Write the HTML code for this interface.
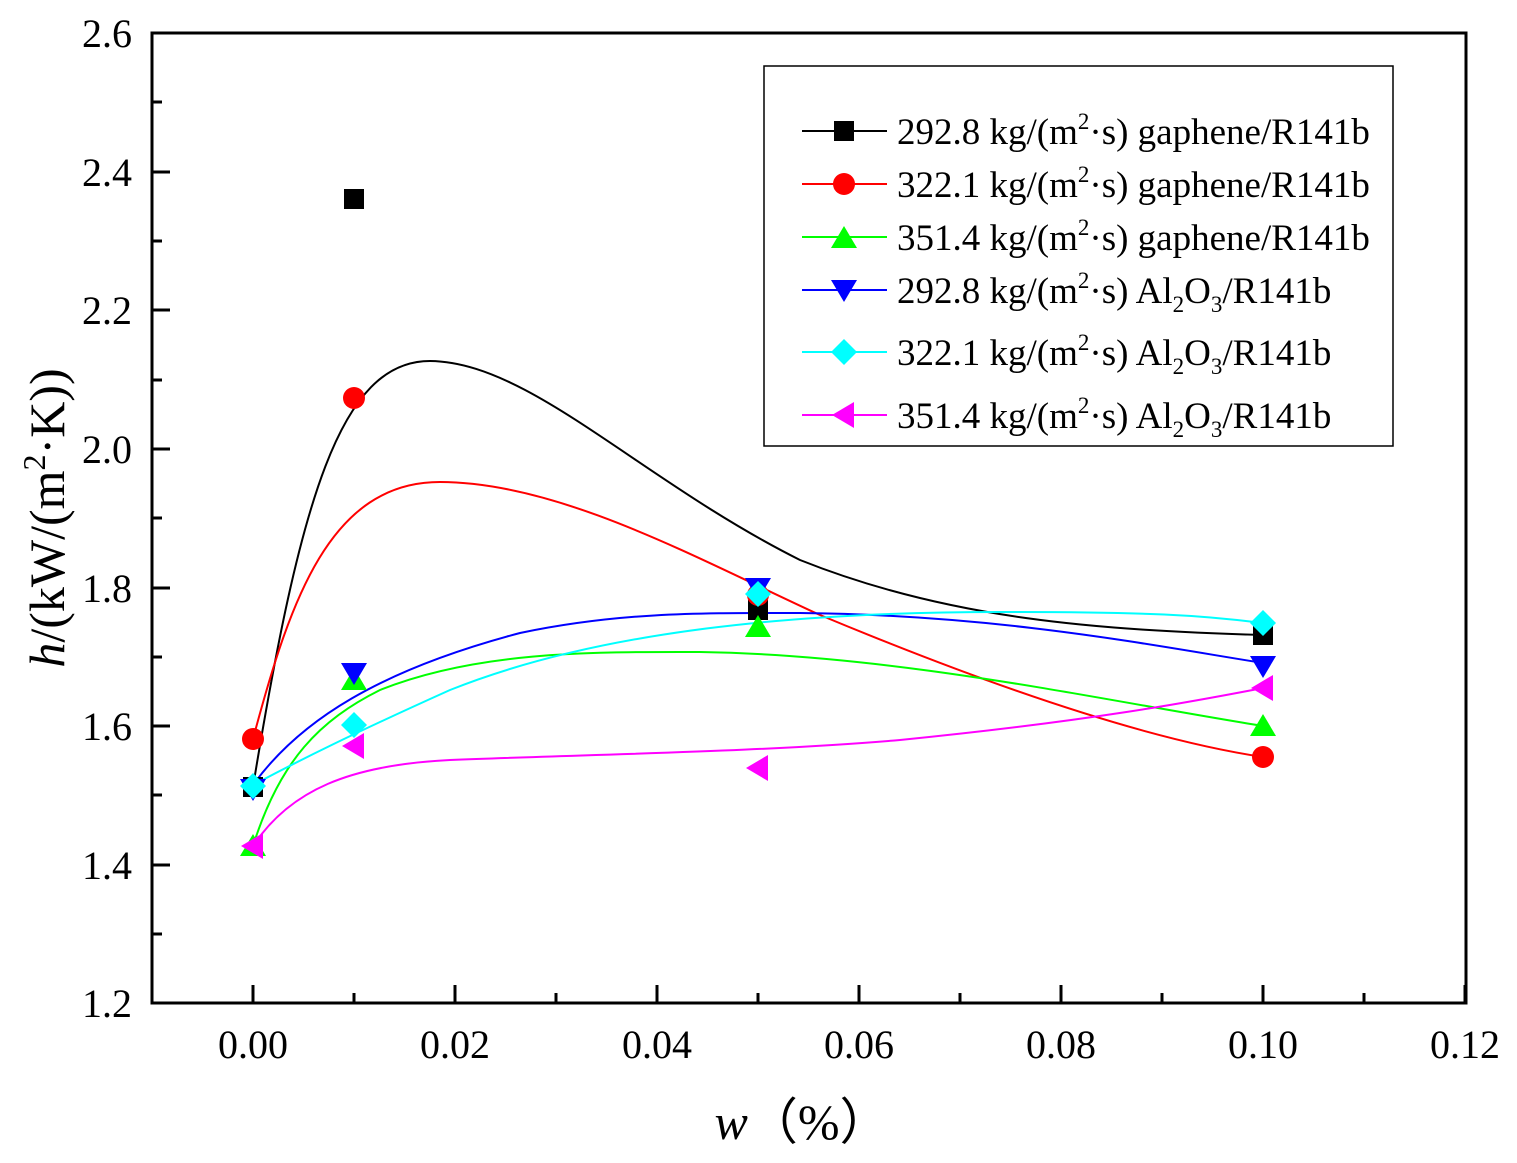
<!DOCTYPE html><html><head><style>body{margin:0;background:#fff}svg{display:block}text{font-family:"Liberation Serif",serif}</style></head><body>
<svg width="1517" height="1163" viewBox="0 0 1517 1163" xmlns="http://www.w3.org/2000/svg">
<defs>
<g id="sq"><rect x="-10" y="-10" width="20" height="20" fill="#000"/></g>
<g id="ci"><circle r="11" fill="#f00"/></g>
<g id="tu"><polygon points="0,-12 13,10 -13,10" fill="#0f0"/></g>
<g id="td"><polygon points="0,12 13,-10 -13,-10" fill="#00f"/></g>
<g id="di"><polygon points="0,-13 13,0 0,13 -13,0" fill="#0ff"/></g>
<g id="tl"><polygon points="-12,0 10,-13 10,13" fill="#f0f"/></g>
</defs>
<g fill="none" stroke-width="2">
<path d="M253,787 C300,500 340,361 430,361 C530,362 640,480 800,560 C950,620 1100,630 1263,635" stroke="#000"/>
<path d="M253,739 C290,600 330,482 440,482 C560,482 700,560 820,615 C1000,690 1150,740 1263,757" stroke="#f00"/>
<path d="M253,846 C280,760 320,720 380,690 C480,650 600,652 700,652 C900,655 1100,700 1263,726" stroke="#0f0"/>
<path d="M253,785 C300,720 380,670 520,633 C620,612 700,613 800,613 C1000,615 1150,645 1263,663" stroke="#00f"/>
<path d="M253,785 C300,760 350,735 450,690 C600,630 800,612 1000,612 C1150,612 1200,615 1263,623" stroke="#0ff"/>
<path d="M253,846 C290,790 350,765 450,760 C600,754 760,752 900,740 C1100,720 1200,700 1263,688" stroke="#f0f"/>
</g>
<use href="#sq" x="253" y="787"/><use href="#sq" x="354" y="199"/><use href="#sq" x="758" y="610"/><use href="#sq" x="1263" y="635"/>
<use href="#ci" x="253" y="739"/><use href="#ci" x="354" y="398"/><use href="#ci" x="758" y="595"/><use href="#ci" x="1263" y="757"/>
<use href="#tu" x="253" y="846"/><use href="#tu" x="354" y="680"/><use href="#tu" x="758" y="627"/><use href="#tu" x="1263" y="726"/>
<use href="#td" x="253" y="789"/><use href="#td" x="354" y="673"/><use href="#td" x="758" y="588"/><use href="#td" x="1263" y="666"/>
<use href="#di" x="253" y="786"/><use href="#di" x="354" y="725"/><use href="#di" x="758" y="594"/><use href="#di" x="1263" y="623"/>
<use href="#tl" x="253" y="846"/><use href="#tl" x="354" y="746"/><use href="#tl" x="758" y="768"/><use href="#tl" x="1263" y="688"/>
<rect x="152" y="33" width="1314" height="970" fill="none" stroke="#000" stroke-width="3"/>
<g stroke="#000" stroke-width="3">
<path d="M253,1003v-18M455,1003v-18M657,1003v-18M859,1003v-18M1061,1003v-18M1263,1003v-18M1465,1003v-18"/>
<path d="M354,1003v-10M556,1003v-10M758,1003v-10M960,1003v-10M1162,1003v-10M1364,1003v-10"/>
<path d="M152,172h18M152,310h18M152,449h18M152,588h18M152,726h18M152,865h18"/>
<path d="M152,102h10M152,241h10M152,380h10M152,518h10M152,657h10M152,795h10M152,934h10"/>
</g>
<g font-size="40" text-anchor="end">
<text x="132" y="47">2.6</text><text x="132" y="186">2.4</text><text x="132" y="324">2.2</text><text x="132" y="463">2.0</text><text x="132" y="602">1.8</text><text x="132" y="740">1.6</text><text x="132" y="879">1.4</text><text x="132" y="1017">1.2</text>
</g>
<g font-size="40" text-anchor="middle">
<text x="253" y="1058">0.00</text><text x="455" y="1058">0.02</text><text x="657" y="1058">0.04</text><text x="859" y="1058">0.06</text><text x="1061" y="1058">0.08</text><text x="1263" y="1058">0.10</text><text x="1465" y="1058">0.12</text>
</g>
<text transform="translate(64,518) rotate(-90)" font-size="50" text-anchor="middle"><tspan font-style="italic">h</tspan>/(kW/(m<tspan font-size="32" dy="-19">2</tspan><tspan dy="19">·K))</tspan></text>
<text x="802" y="1139" font-size="50" text-anchor="middle" font-family="Liberation Serif,Noto Serif CJK SC,serif"><tspan font-style="italic">w</tspan>（%）</text>
<rect x="764" y="66" width="629" height="380" fill="#fff" stroke="#000" stroke-width="1.5"/>
<g stroke-width="2">
<path d="M802,131h85" stroke="#000"/><path d="M802,184h85" stroke="#f00"/><path d="M802,237h85" stroke="#0f0"/><path d="M802,290h85" stroke="#00f"/><path d="M802,352h85" stroke="#0ff"/><path d="M802,415h85" stroke="#f0f"/>
</g>
<use href="#sq" x="844" y="131"/><use href="#ci" x="844" y="184"/><use href="#tu" x="844" y="238"/><use href="#td" x="844" y="290"/><use href="#di" x="844" y="352"/><use href="#tl" x="844" y="415"/>
<g font-size="37">
<text x="897" y="144">292.8 kg/(m<tspan font-size="23" dy="-15">2</tspan><tspan dy="15">·s) gaphene/R141b</tspan></text>
<text x="897" y="197">322.1 kg/(m<tspan font-size="23" dy="-15">2</tspan><tspan dy="15">·s) gaphene/R141b</tspan></text>
<text x="897" y="250">351.4 kg/(m<tspan font-size="23" dy="-15">2</tspan><tspan dy="15">·s) gaphene/R141b</tspan></text>
<text x="897" y="303">292.8 kg/(m<tspan font-size="23" dy="-15">2</tspan><tspan dy="15">·s) Al</tspan><tspan font-size="23" dy="9">2</tspan><tspan dy="-9">O</tspan><tspan font-size="23" dy="9">3</tspan><tspan dy="-9">/R141b</tspan></text>
<text x="897" y="365">322.1 kg/(m<tspan font-size="23" dy="-15">2</tspan><tspan dy="15">·s) Al</tspan><tspan font-size="23" dy="9">2</tspan><tspan dy="-9">O</tspan><tspan font-size="23" dy="9">3</tspan><tspan dy="-9">/R141b</tspan></text>
<text x="897" y="428">351.4 kg/(m<tspan font-size="23" dy="-15">2</tspan><tspan dy="15">·s) Al</tspan><tspan font-size="23" dy="9">2</tspan><tspan dy="-9">O</tspan><tspan font-size="23" dy="9">3</tspan><tspan dy="-9">/R141b</tspan></text>
</g>
</svg>
</body></html>
